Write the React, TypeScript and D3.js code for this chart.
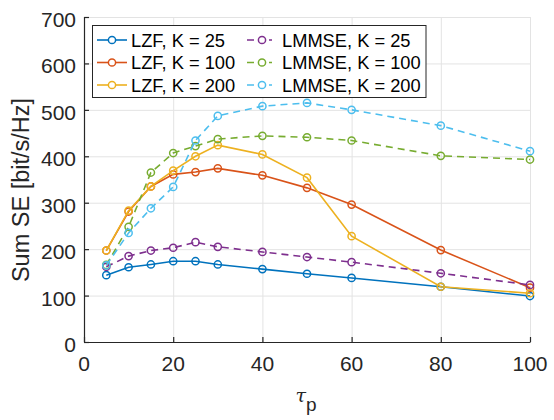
import React, { useRef, useEffect } from "react";
import * as d3 from "d3";

// x values (pilot length)
const tauP = [5, 10, 15, 20, 25, 30, 40, 50, 60, 80, 100];

const lzf25 = [144, 161, 167, 174, 174, 167, 157, 147, 138, 119, 99];
const lzf100 = [197, 281, 335, 361, 366, 374, 359, 332, 296, 198, 117];
const lzf200 = [197, 283, 335, 369, 400, 424, 404, 354, 228, 119, 105];
const lmmse25 = [162, 185, 197, 203, 215, 205, 194, 183, 172, 148, 123];
const lmmse100 = [166, 248, 365, 407, 422, 437, 444, 441, 434, 401, 393];
const lmmse200 = [165, 235, 288, 334, 434, 487, 508, 515, 500, 466, 411];

const seriesNames = [
  "LZF, K = 25",
  "LZF, K = 100",
  "LZF, K = 200",
  "LMMSE, K = 25",
  "LMMSE, K = 100",
  "LMMSE, K = 200",
];
const seriesData = [lzf25, lzf100, lzf200, lmmse25, lmmse100, lmmse200];
const colors = ["#0072BD", "#D95319", "#EDB120", "#7E2F8E", "#77AC30", "#4DBEEE"];
const dashed = [false, false, false, true, true, true];

const xTicks = [0, 20, 40, 60, 80, 100];
const yTicks = [0, 100, 200, 300, 400, 500, 600, 700];

const W = 554;
const H = 420;
const FONT = "'Liberation Sans', Arial, Helvetica, sans-serif";

export default function App() {
  const ref = useRef<SVGSVGElement>(null);

  useEffect(() => {
    const svg = d3.select(ref.current);
    svg.selectAll("*").remove();

    const left = 84, right = 530, top = 17, bottom = 342;
    const x = d3.scaleLinear().domain([0, 100]).range([left, right]);
    const y = d3.scaleLinear().domain([0, 700]).range([bottom, top]);

    svg.append("rect").attr("width", W).attr("height", H).attr("fill", "#fff");

    // grid
    const grid = svg.append("g").attr("stroke", "#e3e3e3").attr("stroke-width", 1);
    xTicks.forEach((t) => {
      grid.append("line")
        .attr("x1", x(t) + 0.5).attr("x2", x(t) + 0.5)
        .attr("y1", top).attr("y2", bottom);
    });
    yTicks.forEach((t) => {
      grid.append("line")
        .attr("x1", left).attr("x2", right)
        .attr("y1", y(t) + 0.5).attr("y2", y(t) + 0.5);
    });

    // axes (left + bottom), ticks inward
    const ax = svg.append("g").attr("stroke", "#262626").attr("stroke-width", 1.2);
    ax.append("line").attr("x1", left).attr("x2", right + 0.5).attr("y1", bottom + 0.5).attr("y2", bottom + 0.5);
    ax.append("line").attr("x1", left + 0.5).attr("x2", left + 0.5).attr("y1", top).attr("y2", bottom + 0.5);
    xTicks.forEach((t) => {
      ax.append("line").attr("x1", x(t) + 0.5).attr("x2", x(t) + 0.5).attr("y1", bottom).attr("y2", bottom - 5);
    });
    yTicks.forEach((t) => {
      ax.append("line").attr("x1", left).attr("x2", left + 5).attr("y1", y(t) + 0.5).attr("y2", y(t) + 0.5);
    });

    // tick labels
    svg.append("g").selectAll("text").data(xTicks).join("text")
      .attr("x", (d) => x(d)).attr("y", bottom + 29)
      .attr("text-anchor", "middle")
      .attr("font-family", FONT).attr("font-size", 21).attr("fill", "#262626")
      .text((d) => d);
    svg.append("g").selectAll("text").data(yTicks).join("text")
      .attr("x", left - 8).attr("y", (d) => y(d) + 10)
      .attr("text-anchor", "end")
      .attr("font-family", FONT).attr("font-size", 21).attr("fill", "#262626")
      .text((d) => d);

    // axis titles
    svg.append("text")
      .attr("transform", `translate(29, 190) rotate(-90)`)
      .attr("text-anchor", "middle")
      .attr("font-family", FONT).attr("font-size", 23.5).attr("fill", "#262626")
      .text("Sum SE [bit/s/Hz]");
    const xl = svg.append("text")
      .attr("x", 306).attr("y", 402)
      .attr("text-anchor", "middle")
      .attr("fill", "#262626");
    xl.append("tspan")
      .attr("font-family", "'DejaVu Serif', 'Liberation Serif', serif")
      .attr("font-style", "italic").attr("font-size", 19)
      .text("τ");
    xl.append("tspan")
      .attr("font-family", FONT).attr("font-size", 19).attr("dy", 9)
      .text("p");

    // series
    const line = d3.line<number>()
      .x((_, i) => x(tauP[i]))
      .y((d) => y(d));
    seriesData.forEach((vals, si) => {
      const g = svg.append("g");
      g.append("path")
        .attr("d", line(vals))
        .attr("fill", "none")
        .attr("stroke", colors[si])
        .attr("stroke-width", 1.6)
        .attr("stroke-dasharray", dashed[si] ? "7,5" : null);
      g.selectAll("circle").data(vals).join("circle")
        .attr("cx", (_, i) => x(tauP[i]))
        .attr("cy", (d) => y(d))
        .attr("r", 3.6)
        .attr("fill", "none")
        .attr("stroke", colors[si])
        .attr("stroke-width", 1.5);
    });

    // legend
    const lg = svg.append("g");
    lg.append("rect")
      .attr("x", 92.5).attr("y", 25.5).attr("width", 333.5).attr("height", 72)
      .attr("fill", "#fff").attr("stroke", "#262626").attr("stroke-width", 1);
    const cols = [
      { x1: 97, x2: 127, c: 112, t: 131 },
      { x1: 247, x2: 272, c: 262, t: 282 },
    ];
    const rowY = [40, 62.5, 85];
    seriesNames.forEach((name, i) => {
      const col = cols[Math.floor(i / 3)];
      const ry = rowY[i % 3];
      lg.append("line")
        .attr("x1", col.x1).attr("x2", col.x2).attr("y1", ry).attr("y2", ry)
        .attr("stroke", colors[i]).attr("stroke-width", 1.6)
        .attr("stroke-dasharray", dashed[i] ? "7,4" : null);
      lg.append("circle")
        .attr("cx", col.c).attr("cy", ry).attr("r", 3.6)
        .attr("fill", "#fff").attr("stroke", colors[i]).attr("stroke-width", 1.5);
      lg.append("text")
        .attr("x", col.t).attr("y", ry + 6.7)
        .attr("font-family", FONT).attr("font-size", 18.3).attr("fill", "#000")
        .text(name);
    });
  }, []);

  return (
    <svg
      ref={ref}
      width={W}
      height={H}
      style={{ position: "absolute", left: 0, top: 0 }}
    />
  );
}
